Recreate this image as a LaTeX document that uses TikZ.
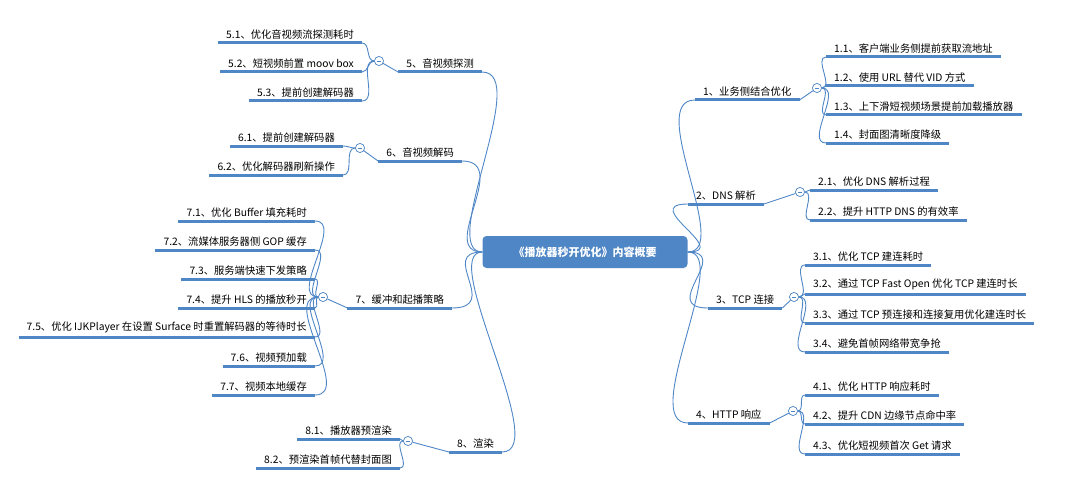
\documentclass[tikz,border=0pt]{standalone}
\usepackage{fontspec}
\setmainfont{Noto Sans CJK SC}
\usetikzlibrary{positioning}
\definecolor{mapblue}{HTML}{4E86C6}
\tikzset{
  leaf/.style={font=\fontsize{10.3}{12}\selectfont, inner xsep=8pt, inner ysep=3.5pt,
    append after command={(\tikzlastnode.south west) edge[ul] (\tikzlastnode.south east)}},
  ul/.style={draw=mapblue, line width=3pt},
  link/.style={draw=mapblue, line width=0.9pt},
  fold/.style={circle, draw=mapblue, fill=white, line width=0.6pt, inner sep=0pt, minimum size=9pt,
    path picture={\draw[mapblue, line width=0.6pt] ([xshift=-2.2pt]path picture bounding box.center) -- ([xshift=2.2pt]path picture bounding box.center);}}
}
\begin{document}
\begin{tikzpicture}[x=1pt, y=-1pt]
  \useasboundingbox (0,0) rectangle (1080,487);
  \node[fill=mapblue, rounded corners=4pt, text=white, font=\fontsize{11}{13}\selectfont\bfseries,
        minimum width=205pt, minimum height=32pt] (root) at (585,252) {《播放器秒开优化》内容概要};

  % right side
  \node[leaf, anchor=south west] (m1) at (695,100) {1、业务侧结合优化};
  \node[leaf, anchor=south west] (m2) at (688,204) {2、DNS 解析};
  \node[leaf, anchor=south west] (m3) at (708,308) {3、TCP 连接};
  \node[leaf, anchor=south west] (m4) at (688,423) {4、HTTP 响应};
  % left side
  \node[leaf, anchor=south east] (m5) at (482,72) {5、音视频探测};
  \node[leaf, anchor=south east] (m6) at (462,161) {6、音视频解码};
  \node[leaf, anchor=south east] (m7) at (452,308) {7、缓冲和起播策略};
  \node[leaf, anchor=south east] (m8) at (502,452) {8、渲染};

  \node[fold] (c1) at (817,88) {};
  \node[fold] (c2) at (800,192) {};
  \node[fold] (c3) at (794,297) {};
  \node[fold] (c4) at (793,411) {};
  \node[fold] (c5) at (379,61) {};
  \node[fold] (c6) at (360,148) {};
  \node[fold] (c7) at (323,297) {};
  \node[fold] (c8) at (408,441) {};

  \foreach \m in {m1,m2,m3,m4}
    \draw[link] (root.east) .. controls +(45,0) and +(-50,0) .. (\m.south west);
  \foreach \m in {m5,m6,m7,m8}
    \draw[link] (root.west) .. controls +(-45,0) and +(50,0) .. (\m.south east);

  % children, right
  \foreach \n/\y/\t in {
      11/57/{1.1、客户端业务侧提前获取流地址},
      12/86/{1.2、使用 URL 替代 VID 方式},
      13/115/{1.3、上下滑短视频场景提前加载播放器},
      14/143/{1.4、封面图清晰度降级}}
    \node[leaf, anchor=south west] (k\n) at (826,\y) {\t};
  \foreach \n/\y/\t in {
      21/190/{2.1、优化 DNS 解析过程},
      22/220/{2.2、提升 HTTP DNS 的有效率}}
    \node[leaf, anchor=south west] (k\n) at (810,\y) {\t};
  \foreach \n/\y/\t in {
      31/265/{3.1、优化 TCP 建连耗时},
      32/294/{3.2、通过 TCP Fast Open 优化 TCP 建连时长},
      33/323/{3.3、通过 TCP 预连接和连接复用优化建连时长},
      34/352/{3.4、避免首帧网络带宽争抢}}
    \node[leaf, anchor=south west] (k\n) at (805,\y) {\t};
  \foreach \n/\y/\t in {
      41/395/{4.1、优化 HTTP 响应耗时},
      42/424/{4.2、提升 CDN 边缘节点命中率},
      43/454/{4.3、优化短视频首次 Get 请求}}
    \node[leaf, anchor=south west] (k\n) at (805,\y) {\t};

  % children, left
  \foreach \n/\y/\t in {
      51/43/{5.1、优化音视频流探测耗时},
      52/72/{5.2、短视频前置 moov box},
      53/101/{5.3、提前创建解码器}}
    \node[leaf, anchor=south east] (k\n) at (362,\y) {\t};
  \foreach \n/\y/\t in {
      61/146/{6.1、提前创建解码器},
      62/175/{6.2、优化解码器刷新操作}}
    \node[leaf, anchor=south east] (k\n) at (343,\y) {\t};
  \foreach \n/\y/\t in {
      71/221/{7.1、优化 Buffer 填充耗时},
      72/250/{7.2、流媒体服务器侧 GOP 缓存},
      73/279/{7.3、服务端快速下发策略},
      74/308/{7.4、提升 HLS 的播放秒开},
      75/337/{7.5、优化 IJKPlayer 在设置 Surface 时重置解码器的等待时长},
      76/366/{7.6、视频预加载},
      77/395/{7.7、视频本地缓存}}
    \node[leaf, anchor=south east] (k\n) at (315,\y) {\t};
  \foreach \n/\y/\t in {
      81/439/{8.1、播放器预渲染},
      82/468/{8.2、预渲染首帧代替封面图}}
    \node[leaf, anchor=south east] (k\n) at (400,\y) {\t};

  % brackets
  \foreach \c/\m in {c1/m1,c2/m2,c3/m3,c4/m4}
    \draw[link] (\m.south east) -- (\c);
  \foreach \c/\m in {c5/m5,c6/m6,c7/m7,c8/m8}
    \draw[link] (\m.south west) -- (\c);
  \foreach \c/\k in {c1/k11,c1/k12,c1/k13,c1/k14,c2/k21,c2/k22,c3/k31,c3/k32,c3/k33,c3/k34,c4/k41,c4/k42,c4/k43}
    \draw[link] (\c.east) to[out=0, in=180] (\k.south west);
  \foreach \c/\k in {c5/k51,c5/k52,c5/k53,c6/k61,c6/k62,c7/k71,c7/k72,c7/k73,c7/k74,c7/k75,c7/k76,c7/k77,c8/k81,c8/k82}
    \draw[link] (\c.west) to[out=180, in=0] (\k.south east);
  \foreach \c in {c1,c2,c3,c4,c5,c6,c7,c8}
    \node[fold] at (\c) {};
\end{tikzpicture}
\end{document}
